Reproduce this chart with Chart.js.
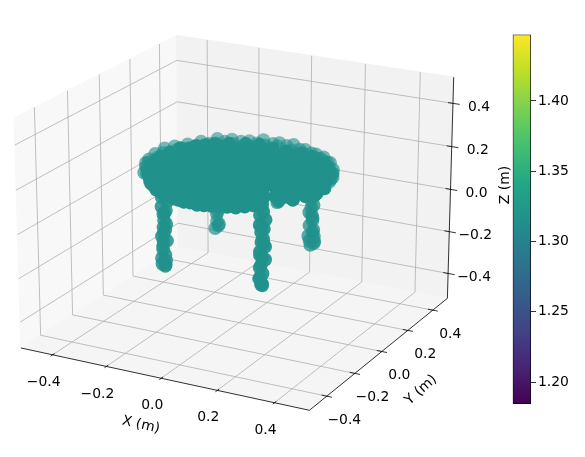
<!DOCTYPE html>
<html>
<head>
<meta charset="utf-8">
<style>
  body { margin: 0; background: #fff; }
  canvas { position: absolute; top: 0; }
</style>
<script src="https://cdn.jsdelivr.net/npm/chart.js@4"></script>
</head>
<body>
<canvas id="canvas" width="585" height="457" style="left:0"></canvas>
<canvas id="colorbar" width="85" height="457" style="left:500px"></canvas>
<script>
// axis ticks (metres) and colour bar
var xTicks = [-0.4, -0.2, 0, 0.2, 0.4];
var yTicks = [-0.4, -0.2, 0, 0.2, 0.4];
var zTicks = [-0.4, -0.2, 0, 0.2, 0.4];
var axisMin = -0.52;
var axisMax = 0.52;
var colorbarTicks = [1.2, 1.25, 1.3, 1.35, 1.4];
var colorbarRange = [1.1844, 1.4473];
var cloudOffset = [-0.0065, 0, 0.009];

// table points, [x, y, z] in metres
var tableTop = [
  [-.285,.002,.18],[-.24,-.006,.185],[-.19,.004,.175],[-.14,-.003,.18],[-.09,.006,.19],[-.04,-.002,.18],[.012,.003,.175],[.06,-.005,.185],[.11,.004,.18],[.16,-.002,.17],[.21,.006,.185],[.26,-.003,.18],[.298,.002,.18],
  [-.28,.052,.18],[-.23,.046,.175],[-.18,.053,.185],[-.13,.048,.18],[-.08,.055,.175],[-.03,.047,.185],[.02,.052,.18],[.07,.046,.17],[.12,.054,.18],[.17,.049,.185],[.22,.051,.175],[.27,.047,.18],[.295,.053,.18],
  [-.265,.098,.185],[-.21,.104,.18],[-.16,.097,.175],[-.11,.102,.18],[-.06,.099,.19],[-.01,.103,.18],[.04,.097,.175],[.09,.104,.18],[.14,.099,.185],[.19,.102,.18],[.24,.097,.175],[.28,.102,.18],
  [-.235,.152,.18],[-.18,.147,.185],[-.13,.153,.175],[-.08,.148,.18],[-.03,.152,.185],[.02,.149,.18],[.07,.153,.175],[.12,.147,.18],[.17,.152,.185],[.22,.149,.18],[.25,.152,.175],
  [-.19,.198,.18],[-.14,.203,.175],[-.09,.197,.185],[-.04,.202,.18],[.01,.198,.175],[.06,.203,.18],[.11,.198,.185],[.16,.202,.18],[.2,.198,.175],
  [-.1,.248,.18],[-.05,.252,.185],[0,.248,.18],[.05,.252,.175],[.11,.249,.18],
  [-.28,-.048,.175],[-.23,-.053,.18],[-.18,-.047,.185],[-.13,-.052,.18],[-.08,-.049,.175],[-.03,-.053,.18],[.02,-.047,.185],[.07,-.052,.18],[.12,-.048,.175],[.17,-.053,.18],[.22,-.047,.185],[.27,-.052,.18],[.295,-.048,.18],
  [-.26,-.103,.18],[-.21,-.097,.185],[-.16,-.102,.175],[-.11,-.098,.18],[-.06,-.103,.185],[-.01,-.097,.18],[.04,-.102,.175],[.09,-.098,.18],[.14,-.103,.185],[.19,-.097,.18],[.24,-.102,.175],[.28,-.098,.18],
  [-.235,-.148,.185],[-.18,-.153,.18],[-.13,-.147,.175],[-.08,-.152,.18],[-.03,-.148,.185],[.02,-.153,.18],[.07,-.147,.175],[.12,-.152,.18],[.17,-.148,.185],[.22,-.152,.18],[.25,-.148,.175],
  [-.19,-.202,.18],[-.14,-.198,.185],[-.09,-.203,.175],[-.04,-.197,.18],[.01,-.202,.185],[.06,-.198,.18],[.11,-.203,.175],[.16,-.197,.18],[.2,-.202,.185],
  [-.1,-.252,.18],[-.05,-.248,.175],[0,-.252,.18],[.05,-.248,.185],[.11,-.251,.18]
];
var tableFill = [
  [-.26,.024,.18],[-.21,.027,.175],[-.16,.023,.185],[-.11,.026,.18],[-.06,.024,.18],[-.01,.027,.175],[.04,.023,.185],[.09,.026,.18],[.14,.024,.18],[.19,.027,.175],[.24,.023,.18],[.285,.026,.185],
  [-.255,.074,.18],[-.2,.077,.185],[-.15,.073,.175],[-.1,.076,.18],[-.05,.074,.185],[0,.077,.18],[.05,.073,.175],[.1,.076,.18],[.15,.074,.185],[.2,.077,.18],[.25,.073,.175],[.28,.076,.18],
  [-.24,.124,.18],[-.19,.127,.175],[-.14,.123,.185],[-.09,.126,.18],[-.04,.124,.175],[.01,.127,.18],[.06,.123,.185],[.11,.126,.18],[.16,.124,.175],[.21,.127,.18],[.26,.123,.185],
  [-.21,.174,.18],[-.16,.177,.185],[-.11,.173,.175],[-.06,.176,.18],[-.01,.174,.185],[.04,.177,.18],[.09,.173,.175],[.14,.176,.18],[.19,.174,.185],[.23,.177,.18],
  [-.15,.224,.18],[-.1,.227,.175],[-.05,.223,.185],[0,.226,.18],[.05,.224,.175],[.1,.227,.18],[.16,.223,.185],
  [-.26,-.026,.18],[-.205,-.023,.185],[-.155,-.027,.175],[-.105,-.024,.18],[-.055,-.026,.185],[-.005,-.023,.18],[.045,-.027,.175],[.095,-.024,.18],[.145,-.026,.185],[.195,-.023,.18],[.245,-.027,.175],[.285,-.024,.18],
  [-.255,-.076,.175],[-.205,-.073,.18],[-.155,-.077,.185],[-.105,-.074,.18],[-.055,-.076,.175],[-.005,-.073,.18],[.045,-.077,.185],[.095,-.074,.18],[.145,-.076,.175],[.195,-.073,.18],[.245,-.077,.185],[.28,-.074,.18],
  [-.24,-.126,.18],[-.19,-.123,.185],[-.14,-.127,.175],[-.09,-.124,.18],[-.04,-.126,.185],[.01,-.123,.18],[.06,-.127,.175],[.11,-.124,.18],[.16,-.126,.185],[.21,-.123,.18],[.26,-.127,.175],
  [-.21,-.176,.18],[-.16,-.173,.175],[-.11,-.177,.185],[-.06,-.174,.18],[-.01,-.176,.175],[.04,-.173,.18],[.09,-.177,.185],[.14,-.174,.18],[.19,-.176,.175],[.23,-.173,.18],
  [-.15,-.226,.185],[-.1,-.223,.18],[-.05,-.227,.175],[0,-.224,.18],[.05,-.226,.185],[.1,-.223,.18],[.16,-.227,.175]
];
// lower edge of the top, front half
var tableSkirt = [
  [-.3,.01,.16],[-.296,-.04,.155],[-.28,-.085,.16],[-.258,-.125,.155],[-.225,-.165,.16],[-.188,-.2,.15],[-.145,-.228,.155],[-.098,-.25,.15],[-.05,-.265,.155],[0,-.27,.15],
  [.05,-.268,.15],[.1,-.255,.155],[.15,-.232,.15],[.195,-.2,.155],[.235,-.165,.16],[.265,-.125,.155],[.29,-.085,.16],[.305,-.04,.155],[.31,.01,.16],
  [-.27,-.02,.165],[-.25,-.07,.16],[-.22,-.12,.165],[-.18,-.16,.16],[-.13,-.19,.155],[-.08,-.215,.16],[-.03,-.23,.155],[.02,-.235,.16],[.07,-.225,.155],[.12,-.205,.16],[.17,-.175,.155],[.215,-.135,.16],[.25,-.09,.165],[.275,-.04,.16],
  [-.288,-.06,.15],[-.27,-.105,.145],[-.242,-.145,.14],[-.225,-.165,.135],[-.206,-.183,.138],[-.188,-.2,.132],[-.166,-.214,.135],[-.145,-.228,.132],[-.12,-.24,.135],[-.098,-.25,.132],[-.074,-.258,.135],
  [-.05,-.265,.135],[-.025,-.268,.138],[0,-.27,.135],[.025,-.27,.138],[.05,-.268,.14],[.075,-.262,.138],[.1,-.255,.142],[.125,-.245,.14],[.15,-.232,.145],[.172,-.216,.148],
  [-.21,-.14,.145],[-.17,-.18,.14],[-.12,-.21,.14],[-.07,-.235,.14],[-.02,-.245,.14],[.03,-.245,.145],[.08,-.235,.145],[.13,-.215,.15]
];
var tableRim = [
  [.316,.003,.19],[.311,.052,.185],[.297,.094,.19],[.276,.14,.185],[.243,.186,.19],[.205,.215,.195],[.16,.25,.185],[.113,.265,.19],[.06,.284,.195],[.006,.287,.19],
  [-.05,.28,.195],[-.098,.27,.185],[-.15,.245,.19],[-.192,.22,.195],[-.232,.18,.19],[-.263,.144,.185],[-.285,.095,.19],[-.299,.052,.195],[-.304,-.002,.19],
  [-.3,-.05,.185],[-.284,-.099,.19],[-.26,-.14,.195],[-.23,-.186,.19],[-.194,-.216,.185],[-.148,-.25,.19],[-.1,-.265,.195],[-.05,-.283,.19],[.008,-.286,.185],
  [.058,-.28,.19],[.112,-.27,.195],[.162,-.245,.19],[.204,-.22,.185],[.245,-.181,.19],[.272,-.144,.195],[.296,-.096,.19],[.31,-.05,.185],
  [.314,-.002,.17],[.309,.047,.175],[.295,.099,.17],[.272,.145,.165],[.24,.18,.17],[.2,.221,.175],[.164,.245,.17],[.11,.27,.165],[.057,.279,.17],[.002,.283,.175],
  [-.046,.284,.17],[-.102,.265,.165],[-.146,.25,.17],[-.196,.215,.175],[-.228,.185,.17],[-.266,.14,.165],[-.282,.099,.17],[-.302,.047,.175],[-.3,.003,.17],
  [-.303,-.046,.17],[-.28,-.095,.165],[-.264,-.145,.17],[-.226,-.18,.175],[-.198,-.22,.17],[-.144,-.245,.165],[-.104,-.27,.17],[-.046,-.279,.175],[.004,-.283,.17],
  [.062,-.284,.165],[.108,-.265,.17],[.166,-.25,.175],[.2,-.215,.17],[.241,-.186,.165],[.276,-.14,.17],[.292,-.1,.175],[.314,-.046,.17],
  [.03,.292,.18],[-.02,.29,.18],[.085,.28,.18],[-.075,.28,.175],[.137,.262,.18],[-.125,.262,.18],[.182,.238,.175],[-.172,.235,.18],[.224,.204,.18],[-.214,.202,.175]
];
var legLeft = [
  [-.156,-.206,.15],[-.148,-.218,.13],[-.16,-.214,.11],[-.145,-.205,.09],[-.158,-.22,.07],[-.147,-.21,.05],[-.16,-.205,.03],[-.15,-.218,.01],
  [-.145,-.212,-.01],[-.158,-.208,-.03],[-.15,-.22,-.05],[-.162,-.212,-.07],[-.147,-.204,-.09],[-.155,-.218,-.11],[-.16,-.208,-.13],[-.148,-.214,-.15],
  [-.158,-.22,-.165],[-.15,-.206,-.18],[-.16,-.214,-.195],[-.152,-.208,-.205],[-.146,-.216,-.195],[-.156,-.212,-.09],[-.152,-.206,-.04],[-.15,-.214,.04]
];
var legBack = [
  [-.19,.21,.1],[-.2,.22,.08],[-.186,.214,.06],[-.198,.208,.04],[-.184,.22,.02],[-.196,.216,0],[-.19,.208,-.02],[-.2,.218,-.04],
  [-.186,.212,-.06],[-.196,.22,-.08],[-.19,.21,-.1],[-.198,.216,-.12],[-.184,.208,-.14],[-.195,.22,-.16],[-.19,.212,-.19],[-.188,.218,-.215],[-.196,.21,-.225],[-.184,.216,-.205]
];
var legFront = [
  [.2,-.21,.15],[.21,-.22,.13],[.196,-.216,.11],[.212,-.208,.09],[.198,-.222,.07],[.208,-.212,.05],[.196,-.208,.03],[.21,-.22,.01],
  [.2,-.214,-.01],[.212,-.21,-.03],[.198,-.22,-.05],[.194,-.212,-.07],[.21,-.206,-.09],[.202,-.22,-.11],[.192,-.21,-.13],[.206,-.216,-.15],
  [.2,-.222,-.165],[.19,-.21,-.18],[.204,-.216,-.195],[.196,-.208,-.205],[.208,-.222,-.2],[.202,-.212,-.08],[.206,-.208,-.02],[.2,-.216,.06]
];
var legRight = [
  [.164,.208,.15],[.172,.22,.13],[.158,.214,.11],[.174,.206,.09],[.16,.22,.07],[.17,.21,.05],[.158,.206,.03],[.172,.218,.01],
  [.162,.212,-.01],[.174,.208,-.03],[.16,.22,-.05],[.156,.212,-.07],[.172,.206,-.09],[.164,.22,-.11],[.158,.21,-.13],[.17,.216,-.15],
  [.164,.222,-.165],[.154,.21,-.18],[.172,.216,-.18],[.16,.208,-.2],[.17,.22,-.215],[.166,.212,-.08],[.176,.212,-.2],[.158,.218,-.225]
];

// same view as the original 3d axes
var elev = 20 * Math.PI / 180;
var azim = -62 * Math.PI / 180;
var dist = 10;
var box = [1.1905, 1.1905, 0.8929];
var pxScale = 2688;
var originX = 239;
var originY = 211.5;
var markerRadius = 6.8;

var uVec = [-Math.sin(azim), Math.cos(azim), 0];
var vVec = [-Math.sin(elev) * Math.cos(azim), -Math.sin(elev) * Math.sin(azim), Math.cos(elev)];
var wVec = [Math.cos(elev) * Math.cos(azim), Math.cos(elev) * Math.sin(azim), Math.sin(elev)];

function project(x, y, z) {
  var p = [x, y, z].map(function (v, i) {
    return ((v - axisMin) / (axisMax - axisMin) - 0.5) * box[i];
  });
  var dot = function (a) { return a[0] * p[0] + a[1] * p[1] + a[2] * p[2]; };
  var w = dot(wVec);
  return { x: dot(uVec) / (dist - w), y: dot(vVec) / (dist - w), depth: w };
}

function path(list) {
  return list.map(function (p) { return p ? project(p[0], p[1], p[2]) : { x: NaN, y: NaN }; });
}

function cloudPath(list) {
  return list.map(function (p) {
    return project(p[0] + cloudOffset[0], p[1] + cloudOffset[1], p[2] + cloudOffset[2]);
  });
}

var lo = axisMin, hi = axisMax;
var gridSegs = [];
xTicks.forEach(function (t) { gridSegs.push([t, lo, lo], [t, hi, lo], [t, hi, hi], null); });
yTicks.forEach(function (t) { gridSegs.push([hi, t, lo], [lo, t, lo], [lo, t, hi], null); });
zTicks.forEach(function (t) { gridSegs.push([lo, lo, t], [lo, hi, t], [hi, hi, t], null); });

var axisSegs = [[lo, lo, lo], [hi, lo, lo], [hi, hi, lo], [hi, hi, hi], null];
xTicks.forEach(function (t) { axisSegs.push([t, lo - 0.012, lo], [t, lo + 0.012, lo], null); });
yTicks.forEach(function (t) { axisSegs.push([hi - 0.018, t, lo], [hi + 0.018, t, lo], null); });
zTicks.forEach(function (t) { axisSegs.push([hi - 0.018, hi, t], [hi + 0.024, hi, t], null); });

function pane(list, color) {
  return { type: "line", data: path(list), fill: "shape", backgroundColor: color, borderColor: color, borderWidth: 1, pointRadius: 0, tension: 0, clip: false };
}

function cloud(points, alphaBase, alphaGain) {
  var data = cloudPath(points).sort(function (a, b) { return a.depth - b.depth; });
  return {
    type: "scatter",
    data: data,
    pointRadius: markerRadius,
    pointBorderWidth: 0,
    pointBackgroundColor: data.map(function (p) {
      var a = alphaBase + alphaGain * (p.depth + 0.5);
      return "rgba(33,145,140," + Math.min(a, 1).toFixed(2) + ")";
    }),
    showLine: false,
    clip: false
  };
}

var datasets = [
  { type: "scatter", data: cloudPath(tableTop.concat(tableFill, tableSkirt)), pointRadius: markerRadius, pointBorderWidth: 0, pointBackgroundColor: "#21918c", showLine: false, clip: false },
  cloud(tableRim, 0.5, 0.3),
  cloud(legFront.concat(legLeft, legRight, legBack), 0.65, 0.35),
  { type: "line", data: path(axisSegs), borderColor: "#000", borderWidth: 0.8, pointRadius: 0, tension: 0, spanGaps: false, clip: false },
  { type: "line", data: path(gridSegs), borderColor: "#b0b0b0", borderWidth: 0.8, pointRadius: 0, tension: 0, spanGaps: false, clip: false },
  pane([[lo, lo, lo], [lo, hi, lo], [hi, hi, lo], [hi, lo, lo], [lo, lo, lo]], "#f5f5f5"),
  pane([[lo, hi, lo], [hi, hi, lo], [hi, hi, hi], [lo, hi, hi], [lo, hi, lo]], "#f2f2f2"),
  pane([[lo, lo, lo], [lo, hi, lo], [lo, hi, hi], [lo, lo, hi], [lo, lo, lo]], "#f8f8f8")
];

var axisText = {
  id: "axisText",
  afterDatasetsDraw: function (chart) {
    var ctx = chart.ctx;
    var sx = chart.scales.x, sy = chart.scales.y;
    var put = function (text, px, py, rot) {
      ctx.save();
      ctx.translate(px, py);
      ctx.rotate((rot || 0) * Math.PI / 180);
      ctx.fillText(text, 0, 0);
      ctx.restore();
    };
    var label = function (t) { return t.toFixed(1).replace("-", "\u2212"); };
    var at = function (x, y, z) {
      var p = project(x, y, z);
      return [sx.getPixelForValue(p.x), sy.getPixelForValue(p.y)];
    };
    ctx.save();
    ctx.font = "13.9px 'DejaVu Sans'";
    ctx.fillStyle = "#000";
    ctx.textAlign = "center";
    ctx.textBaseline = "middle";
    xTicks.forEach(function (t) { var p = at(t, lo, lo); put(label(t), p[0] - 9, p[1] + 27.5); });
    yTicks.forEach(function (t) { var p = at(hi, t, lo); put(label(t), p[0] + 17.5, p[1] + 24); });
    zTicks.forEach(function (t) { var p = at(hi, hi, t); put(label(t), p[0] + 26, p[1] + 4); });
    put("X (m)", 141, 425, 13);
    put("Y (m)", 421, 390, -42);
    put("Z (m)", 505, 185, -90);
    ctx.restore();
  }
};

new Chart(document.getElementById("canvas").getContext("2d"), {
  type: "scatter",
  data: { datasets: datasets },
  plugins: [axisText],
  options: {
    responsive: false,
    animation: false,
    layout: { padding: 0, autoPadding: false },
    plugins: { legend: { display: false }, tooltip: { enabled: false } },
    scales: {
      x: { type: "linear", display: false, min: -originX / pxScale, max: (585 - originX) / pxScale },
      y: { type: "linear", display: false, min: (originY - 457) / pxScale, max: originY / pxScale }
    }
  }
});

var viridis = ["#440154", "#482475", "#414487", "#355f8d", "#2a788e", "#21918c", "#22a884", "#44bf70", "#7ad151", "#bddf26", "#fde725"];

new Chart(document.getElementById("colorbar").getContext("2d"), {
  type: "bar",
  data: {
    labels: [""],
    datasets: [{
      data: [colorbarRange],
      barPercentage: 1,
      categoryPercentage: 1,
      borderColor: "#000",
      borderWidth: 1,
      borderSkipped: false,
      backgroundColor: function (c) {
        var area = c.chart.chartArea;
        if (!area) return viridis[5];
        var g = c.chart.ctx.createLinearGradient(0, area.bottom, 0, area.top);
        viridis.forEach(function (col, i) { g.addColorStop(i / 10, col); });
        return g;
      }
    }]
  },
  options: {
    responsive: false,
    animation: false,
    layout: { padding: { left: 12.7, top: 34.5, bottom: 53 } },
    plugins: { legend: { display: false }, tooltip: { enabled: false } },
    scales: {
      x: { display: false },
      y: {
        position: "right",
        min: colorbarRange[0],
        max: colorbarRange[1],
        afterBuildTicks: function (axis) { axis.ticks = colorbarTicks.map(function (v) { return { value: v }; }); },
        afterFit: function (axis) { axis.width = 54; },
        border: { display: false },
        grid: { drawOnChartArea: false, tickLength: 5, tickColor: "#000", tickWidth: 0.8 },
        ticks: {
          autoSkip: false,
          padding: 2,
          color: "#000",
          font: { family: "'DejaVu Sans'", size: 13.9 },
          callback: function (v) { return v.toFixed(2); }
        }
      }
    }
  }
});
</script>
</body>
</html>
